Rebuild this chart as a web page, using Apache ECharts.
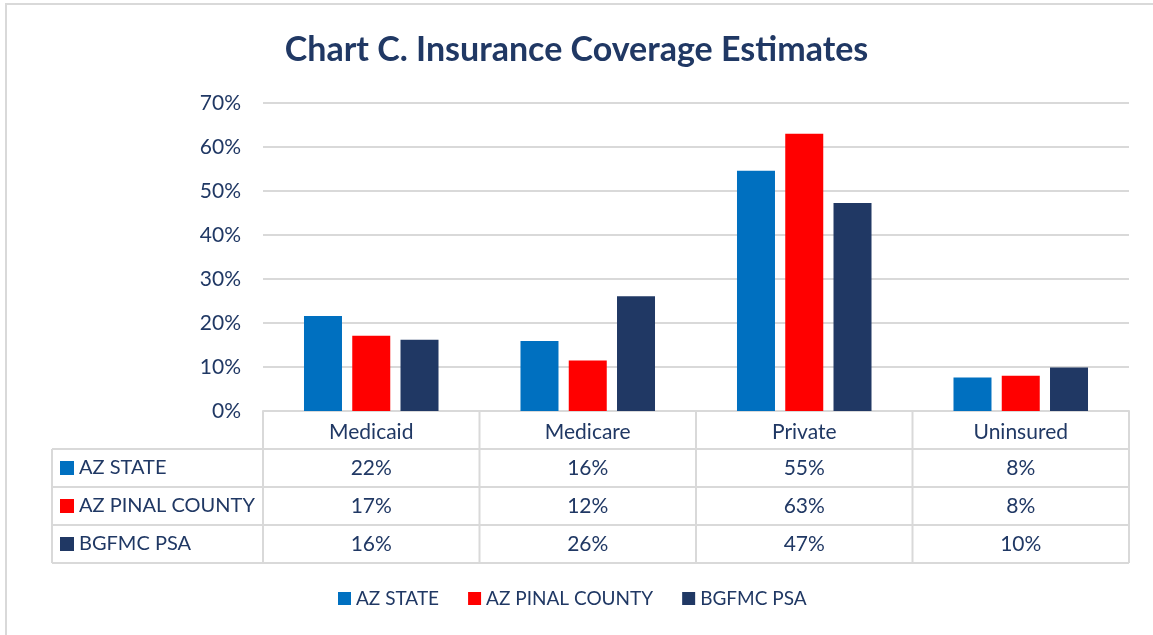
<!DOCTYPE html>
<html lang="en">
<head>
    <meta charset="UTF-8">
    <script src="https://cdn.jsdelivr.net/npm/echarts@6/dist/echarts.min.js"></script>
    <style>
        html, body { margin: 0; padding: 0; background: #fff; }
        #frame {
            position: absolute; left: 5px; top: 3px; width: 1160px; height: 650px;
            border-top: 2px solid #d9d9d9; border-left: 2px solid #d9d9d9;
        }
        #chart { position: absolute; left: 0; top: 0; width: 1153px; height: 635px; }
    </style>
</head>
<body>
    <div id="frame"></div>
    <div id="chart"></div>
    <script>
        // data
        const categories = ['Medicaid', 'Medicare', 'Private', 'Uninsured'];
        const seriesNames = ['AZ STATE', 'AZ PINAL COUNTY', 'BGFMC PSA'];
        const azState = [21.6, 15.9, 54.6, 7.6];
        const pinalCounty = [17.1, 11.5, 63.0, 8.0];
        const bgfmcPsa = [16.2, 26.1, 47.3, 9.9];
        // values printed in the data table
        const azStateLabels = ['22%', '16%', '55%', '8%'];
        const pinalLabels = ['17%', '12%', '63%', '8%'];
        const bgfmcLabels = ['16%', '26%', '47%', '10%'];
        const yTicks = [0, 10, 20, 30, 40, 50, 60, 70];

        const colors = ['#0070C0', '#FF0000', '#203864'];
        const textColor = '#203864';
        const lineColor = '#d9d9d9';
        const font = 'Lato, "Open Sans", sans-serif';

        const gridLeft = 263, gridRight = 1129, gridTop = 103, gridBottom = 411;
        const tableLeft = 52, rowH = 38;

        const chart = echarts.init(document.getElementById('chart'));
        const values = [azState, pinalCounty, bgfmcPsa];
        const tableLabels = [azStateLabels, pinalLabels, bgfmcLabels];

        const option = {
            animation: false,
            title: {
                text: 'Chart C. Insurance Coverage Estimates',
                left: 'center',
                top: 28,
                textStyle: { fontFamily: font, fontSize: 34, fontWeight: 'bold', color: textColor }
            },
            legend: {
                data: seriesNames,
                bottom: 22,
                left: 333,
                icon: 'rect',
                itemWidth: 13,
                itemHeight: 13,
                itemGap: 29,
                textStyle: { fontFamily: font, fontSize: 19, color: textColor }
            },
            grid: {
                left: gridLeft,
                right: 1153 - gridRight,
                top: gridTop,
                bottom: 635 - gridBottom
            },
            xAxis: {
                type: 'category',
                data: categories,
                axisLine: { lineStyle: { color: lineColor, width: 2 } },
                axisTick: { show: false },
                axisLabel: {
                    margin: 11,
                    fontFamily: font, fontSize: 21, color: textColor
                }
            },
            yAxis: {
                type: 'value',
                min: 0,
                max: 70,
                interval: 10,
                axisLine: { show: false },
                axisTick: { show: false },
                splitLine: { lineStyle: { color: lineColor, width: 2 } },
                axisLabel: {
                    margin: 22,
                    fontFamily: font, fontSize: 21, color: textColor,
                    formatter: v => yTicks.includes(v) ? v + '%' : ''
                }
            },
            series: seriesNames.map((name, i) => ({
                name: name,
                type: 'bar',
                data: values[i],
                barWidth: 38,
                barGap: '27%',
                itemStyle: { color: colors[i] }
            }))
        };
        chart.setOption(option);

        // data table under the axis
        const graphics = [];
        const line = (x1, y1, x2, y2) => graphics.push({
            type: 'line',
            shape: { x1, y1, x2, y2 },
            style: { stroke: lineColor, lineWidth: 2 },
            silent: true
        });
        const colW = (gridRight - gridLeft) / categories.length;
        for (let r = 1; r <= 4; r++) {
            line(tableLeft, gridBottom + r * rowH, gridRight, gridBottom + r * rowH);
        }
        for (let c = 0; c <= categories.length; c++) {
            line(gridLeft + c * colW, gridBottom, gridLeft + c * colW, gridBottom + 4 * rowH);
        }
        line(tableLeft, gridBottom + rowH, tableLeft, gridBottom + 4 * rowH);

        seriesNames.forEach((name, i) => {
            const cy = gridBottom + (i + 1) * rowH + rowH / 2;
            graphics.push({
                type: 'rect',
                shape: { x: 60, y: cy - 7, width: 14, height: 14 },
                style: { fill: colors[i] }
            });
            graphics.push({
                type: 'text',
                x: 79, y: cy,
                style: {
                    text: name, fontFamily: font, fontSize: 20, fill: textColor,
                    textVerticalAlign: 'middle', verticalAlign: 'middle'
                }
            });
            categories.forEach((cat, j) => {
                const cx = chart.convertToPixel({ xAxisIndex: 0 }, cat);
                graphics.push({
                    type: 'text',
                    x: cx, y: cy,
                    style: {
                        text: tableLabels[i][j], fontFamily: font, fontSize: 21, fill: textColor,
                        align: 'center', textAlign: 'center',
                        verticalAlign: 'middle', textVerticalAlign: 'middle'
                    }
                });
            });
        });
        chart.setOption({ graphic: graphics });
    </script>
</body>
</html>
